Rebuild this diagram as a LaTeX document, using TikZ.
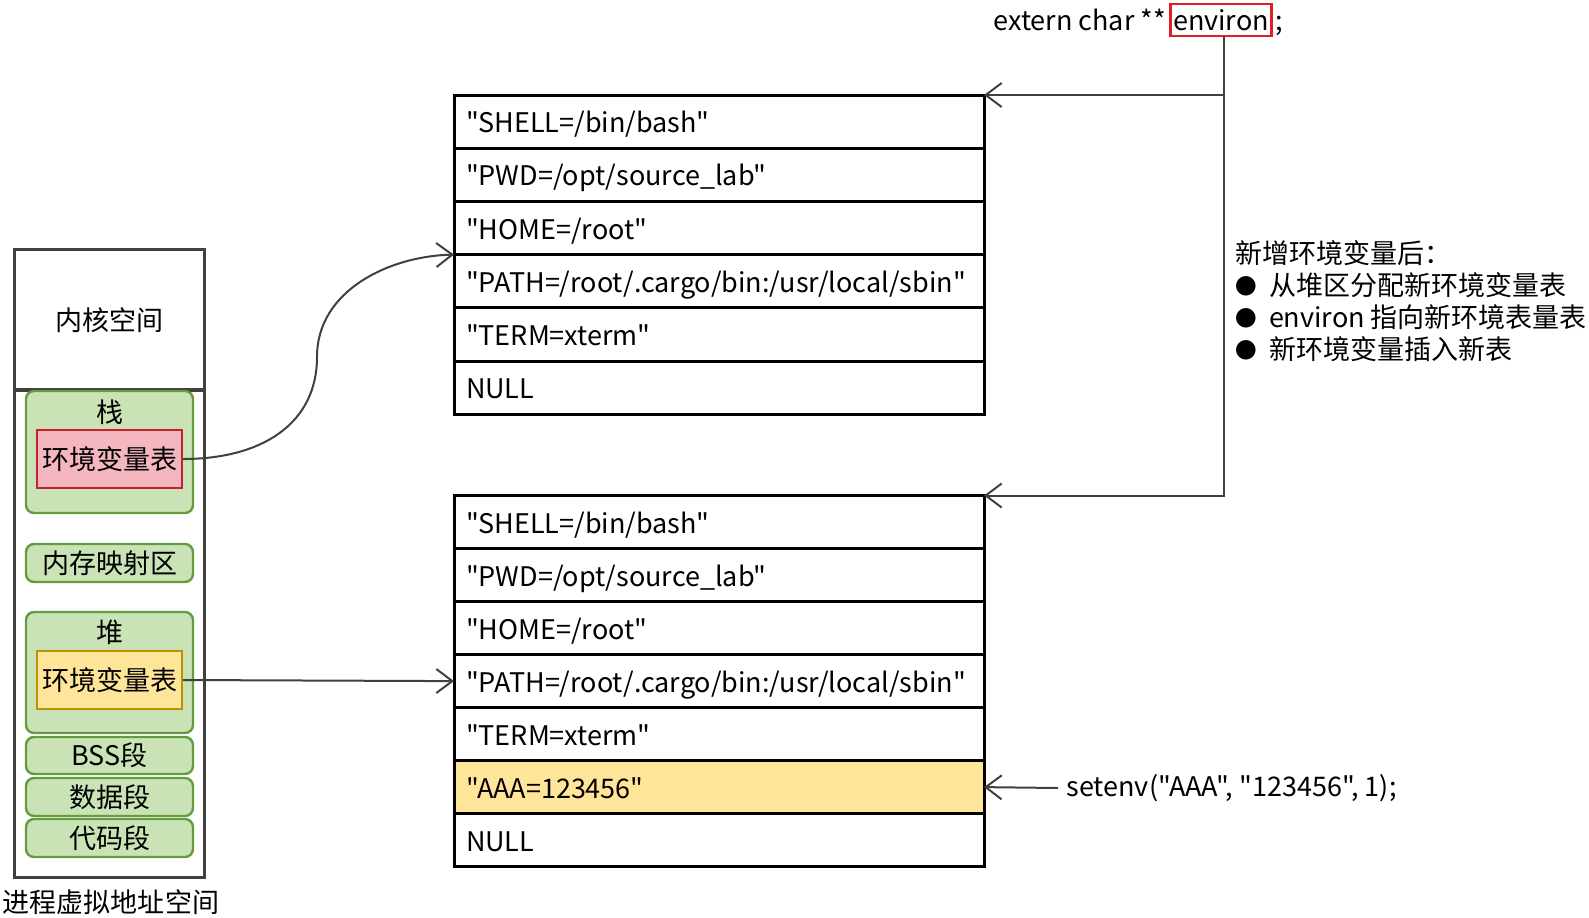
\documentclass[tikz,border=0pt]{standalone}
\usepackage{fontspec}
\newfontfamily\notosc{Noto Sans CJK SC}
\usetikzlibrary{arrows.meta,positioning}

\definecolor{memline}{HTML}{404040}
\definecolor{segfill}{HTML}{C9E3B6}
\definecolor{segline}{HTML}{629C3F}
\definecolor{stkfill}{HTML}{F4B6BF}
\definecolor{stkline}{HTML}{C8202F}
\definecolor{heapfill}{HTML}{FFE599}
\definecolor{heapline}{HTML}{BF9000}
\definecolor{envred}{HTML}{E51C23}

\tikzset{
  seg/.style={draw=segline,fill=segfill,line width=1.2pt,rounded corners=4pt,minimum width=83.5pt,inner sep=0pt},
  envtab/.style={draw=stkline,line width=1.2pt,minimum width=72.5pt,minimum height=29pt,inner sep=0pt},
  row/.style={draw,line width=1.5pt,outer sep=0pt,minimum height=26.6pt,text width=253pt,inner xsep=6pt,
    text height=12pt,text depth=1pt,align=left,anchor=north west},
  conn/.style={draw=memline,line width=1pt,-{Straight Barb[length=8pt,width=12pt]}},
}
\newcommand{\bul}{\raisebox{0.5pt}{\scalebox{0.8}{●}}\hspace{6pt}}

\begin{document}
\begin{tikzpicture}[x=0.5pt,y=-0.5pt,font=\notosc\fontsize{13.5}{16}\selectfont]
  \useasboundingbox (0,0) rectangle (1589,917);
  % Process address space
  \node[draw=memline,line width=1.5pt,minimum width=95pt,minimum height=70.5pt,inner sep=0pt] (kernel) at (109,320) {内核空间};
  \node[draw=memline,line width=1.5pt,minimum width=95pt,minimum height=244pt] (user) at (109,633) {};
  \node (vas) at (111,902) {进程虚拟地址空间};
  \node[seg,minimum height=61pt] (stack) at (109.5,452) {};
  \node (stacklbl) at (109.5,412) {栈};
  \node[envtab,fill=stkfill] (stkenv) at (109.5,459) {环境变量表};
  \node[seg,minimum height=19pt] (mmap) at (109.5,563) {内存映射区};
  \node[seg,minimum height=60.5pt] (heap) at (109.5,672.5) {};
  \node (heaplbl) at (109.5,632) {堆};
  \node[envtab,draw=heapline,fill=heapfill] (heapenv) at (109.5,680) {环境变量表};
  \node[seg,minimum height=18.5pt] (bss) at (109.5,755.5) {BSS段};
  \node[seg,minimum height=19pt] (data) at (109.5,797) {数据段};
  \node[seg,minimum height=19pt] (code) at (109.5,838) {代码段};

  % Old table (stack)
  \foreach \txt [count=\i] in {"SHELL=/bin/bash","PWD=/opt/source\_lab","HOME=/root",
      "PATH=/root/.cargo/bin:/usr/local/sbin","TERM=xterm",NULL}
    \node[row] (top\i) at (454,{95+(\i-1)*53.2}) {\txt};
  % New table (heap), row 6 is the new variable
  \foreach \txt [count=\i] in {"SHELL=/bin/bash","PWD=/opt/source\_lab","HOME=/root",
      "PATH=/root/.cargo/bin:/usr/local/sbin","TERM=xterm","AAA=123456",NULL}{
    \ifnum\i=6 \def\col{heapfill}\else\def\col{white}\fi
    \node[row,fill=\col] (bot\i) at (454,{495.5+(\i-1)*53}) {\txt};
  }

  % environ pointer
  \node[draw=envred,line width=1.2pt,minimum width=50.5pt,minimum height=16pt,inner sep=0pt] (env) at (1221,20) {environ};
  \node[anchor=base east,inner sep=1.5pt] (extern) at (env.base west) {extern char **};
  \node[anchor=base west,inner sep=1pt] (semi) at (env.base east) {;};
  \coordinate (envdown) at ([xshift=1.5pt]env.south);
  \draw[conn] (envdown) -- (envdown |- bot1.north east) -- (bot1.north east);
  \draw[conn] (envdown |- top1.north east) -- (top1.north east);

  % Notes
  \node[anchor=north west,align=left,inner sep=0pt] (note) at (1235,240)
    {新增环境变量后：\\
     \bul 从堆区分配新环境变量表\\
     \bul environ 指向新环境表量表\\
     \bul 新环境变量插入新表};
  \node[anchor=west,inner sep=4pt] (setenv) at (1058,788) {setenv("AAA", "123456", 1);};

  % Links
  \draw[conn] (stkenv.east) .. controls (260,459) and (317,425) .. (317,357)
    .. controls (317,290) and (390,256) .. (top4.north west);
  \draw[conn] (heapenv.east) -- (bot4.west);
  \draw[conn] (setenv.west) -- (bot6.east);
\end{tikzpicture}
\end{document}
